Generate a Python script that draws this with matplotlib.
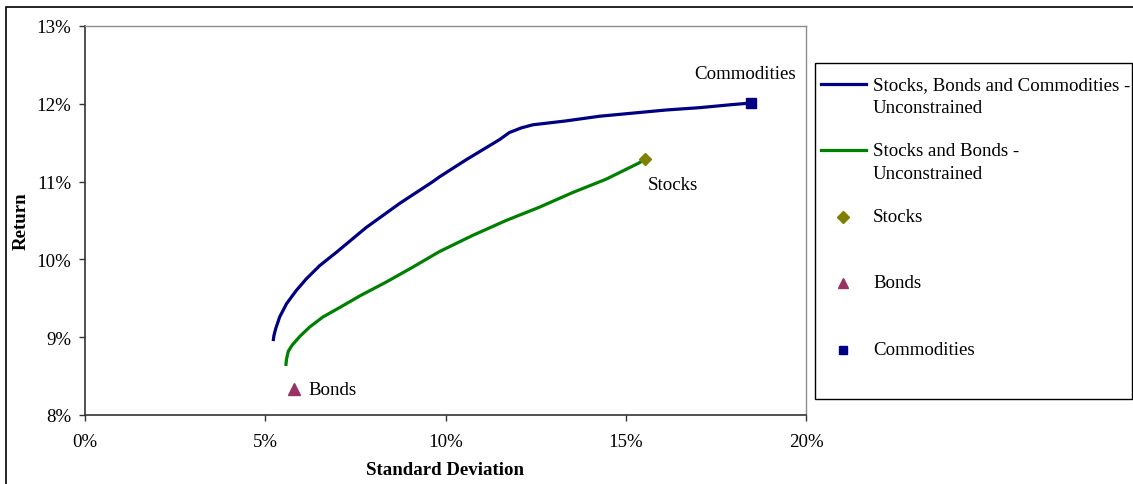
import matplotlib
matplotlib.use("Agg")
import matplotlib.pyplot as plt
from matplotlib.lines import Line2D
from matplotlib.patches import Rectangle
from matplotlib.ticker import FuncFormatter, MultipleLocator

plt.rcParams["font.family"] = ["Liberation Serif", "DejaVu Serif"]

# Efficient frontier: Stocks, Bonds and Commodities (standard deviation %, return %)
sbc_sd = [5.22, 5.24, 5.29, 5.40, 5.59, 5.86, 6.14, 6.51, 6.97, 7.80, 8.73, 9.65,
          9.83, 10.57, 11.00, 11.50, 11.77, 12.10, 12.42, 13.34, 14.27, 15.19,
          16.11, 17.04, 17.96, 18.47]
sbc_ret = [8.95, 9.02, 9.11, 9.26, 9.43, 9.60, 9.75, 9.92, 10.09, 10.41, 10.72, 11.00,
           11.06, 11.28, 11.40, 11.54, 11.63, 11.69, 11.73, 11.78, 11.84, 11.88,
           11.92, 11.95, 11.99, 12.01]

# Efficient frontier: Stocks and Bonds
sb_sd = [5.57, 5.59, 5.64, 5.75, 5.96, 6.23, 6.60, 7.06, 7.62, 8.36, 9.09, 9.83,
         10.76, 11.68, 12.60, 13.53, 14.45, 15.37, 15.54]
sb_ret = [8.63, 8.72, 8.82, 8.90, 9.01, 9.13, 9.26, 9.38, 9.53, 9.71, 9.90, 10.10,
          10.31, 10.50, 10.67, 10.86, 11.03, 11.24, 11.29]

# Individual asset classes
assets = ["Stocks", "Bonds", "Commodities"]
asset_sd = [15.54, 5.80, 18.47]
asset_ret = [11.29, 8.33, 12.01]

line_labels = ["Stocks, Bonds and Commodities -\nUnconstrained",
               "Stocks and Bonds -\nUnconstrained"]

NAVY = "#000080"
GREEN = "#008000"
OLIVE = "#808000"
PLUM = "#993366"
asset_style = {
    "Stocks": dict(marker="D", color=OLIVE, ms=6.5),
    "Bonds": dict(marker="^", color=PLUM, ms=8),
    "Commodities": dict(marker="s", color=NAVY, ms=7),
}

W, H = 1133, 485
fig = plt.figure(figsize=(W / 100, H / 100), dpi=100)
ax = fig.add_axes([85 / W, 1 - 416 / H, (806 - 85) / W, (416 - 27) / H])

ax.plot(sbc_sd, sbc_ret, color=NAVY, lw=2.3, solid_capstyle="butt")
ax.plot(sb_sd, sb_ret, color=GREEN, lw=2.3, solid_capstyle="butt")
for name, x, y in zip(assets, asset_sd, asset_ret):
    st = asset_style[name]
    ax.plot([x], [y], linestyle="none", marker=st["marker"], color=st["color"],
            ms=st["ms"], zorder=5)

# Data labels next to the asset points
fs = 13.6
ax.annotate("Commodities", (asset_sd[2], asset_ret[2]), xytext=(-4, 21),
            textcoords="offset points", ha="center", va="center", fontsize=fs)
ax.annotate("Stocks", (asset_sd[0], asset_ret[0]), xytext=(1.5, -18),
            textcoords="offset points", ha="left", va="center", fontsize=fs)
ax.annotate("Bonds", (asset_sd[1], asset_ret[1]), xytext=(10, 0),
            textcoords="offset points", ha="left", va="center", fontsize=fs)

ax.set_xlim(0, 20)
ax.set_ylim(8, 13)
ax.xaxis.set_major_locator(MultipleLocator(5))
ax.yaxis.set_major_locator(MultipleLocator(1))
pct = FuncFormatter(lambda v, p: f"{v:.0f}%")
ax.xaxis.set_major_formatter(pct)
ax.yaxis.set_major_formatter(pct)
ax.tick_params(direction="out", length=4, width=1, labelsize=fs, color="#333333")
ax.tick_params(axis="x", pad=9)
ax.tick_params(axis="y", pad=6)

for s in ("left", "bottom"):
    ax.spines[s].set_color("#333333")
    ax.spines[s].set_linewidth(1.2)
for s in ("top", "right"):
    ax.spines[s].set_color("#8c8c8c")
    ax.spines[s].set_linewidth(1.0)

ax.set_xlabel("Standard Deviation", fontsize=fs, fontweight="bold", labelpad=8)
ax.set_ylabel("Return", fontsize=fs, fontweight="bold", labelpad=5)

# Outer chart frame
fig.add_artist(Rectangle((6 / W, -0.1), 1.2, 1 - 8 / H + 0.1, transform=fig.transFigure,
                         fill=False, edgecolor="black", lw=1.2))

# Legend box
def fx(px):
    return px / W

def fy(py):
    return 1 - py / H

fig.add_artist(Rectangle((fx(815), fy(400)), fx(1132) - fx(815), fy(64) - fy(400),
                         transform=fig.transFigure, fill=False, edgecolor="black", lw=1.0))

entry_y = [85, 151, 218, 284, 351]
text_x = 873
for lab, col, yy in zip(line_labels, [NAVY, GREEN], entry_y[:2]):
    fig.add_artist(Line2D([fx(821), fx(866)], [fy(yy), fy(yy)], color=col, lw=2.3,
                          transform=fig.transFigure))
    fig.text(fx(text_x), fy(yy - 8), lab, ha="left", va="top", fontsize=fs,
             linespacing=1.48)
for name, yy in zip(assets, entry_y[2:]):
    st = asset_style[name]
    fig.add_artist(Line2D([fx(843)], [fy(yy)], marker=st["marker"], color=st["color"],
                          ms=st["ms"] * 0.9, linestyle="none", transform=fig.transFigure))
    fig.text(fx(text_x), fy(yy), name, ha="left", va="center", fontsize=fs)

fig.savefig("out.png", dpi=100)
